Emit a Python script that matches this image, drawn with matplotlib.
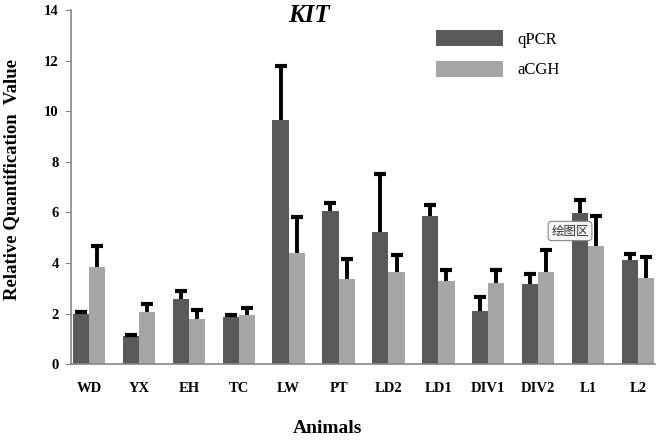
import matplotlib.pyplot as plt
import numpy as np

animals = ['WD', 'YX', 'EH', 'TC', 'LW', 'PT', 'LD2', 'LD1', 'DIV1', 'DIV2', 'L1', 'L2']
qpcr = [2.0, 1.12, 2.57, 1.85, 9.66, 6.05, 5.23, 5.85, 2.11, 3.19, 5.97, 4.14]
qpcr_err = [0.07, 0.04, 0.34, 0.08, 2.14, 0.32, 2.28, 0.44, 0.53, 0.37, 0.51, 0.2]
acgh = [3.85, 2.07, 1.77, 1.95, 4.4, 3.35, 3.65, 3.28, 3.21, 3.65, 4.68, 3.39]
acgh_err = [0.83, 0.33, 0.36, 0.29, 1.41, 0.8, 0.66, 0.46, 0.53, 0.86, 1.17, 0.85]

plt.rcParams['font.family'] = ['Liberation Serif', 'DejaVu Serif']

fig = plt.figure(figsize=(6.71, 4.42), dpi=100)
ax = fig.add_axes([0.106, 0.176, 0.87, 0.801])

x = np.arange(len(animals))
w = 0.325
ax.bar(x - w / 2, qpcr, w, color='#595959', label='qPCR')
ax.bar(x + w / 2, acgh, w, color='#a6a6a6', label='aCGH')

# upper error bars only: a stem and a cap on top
for xs, vals, errs in [(x - w / 2, qpcr, qpcr_err), (x + w / 2, acgh, acgh_err)]:
    vals = np.array(vals)
    tops = vals + np.array(errs)
    ax.vlines(xs, vals, tops, color='black', lw=2.8)
    ax.plot(xs, tops, ls='none', marker='_', ms=9, mew=3, color='black')

ax.set_xlim(-0.36, 11.34)
ax.set_ylim(0, 14)
ax.set_yticks(range(0, 15, 2))
ax.set_xticks(x)
ax.set_xticklabels(animals, fontweight='bold', fontsize=10.5)
ax.tick_params(axis='x', length=0, pad=13)
ax.tick_params(axis='y', length=4, color='#868686', labelsize=10.5, pad=5)
for t in ax.get_yticklabels():
    t.set_fontweight('bold')

for s in ['top', 'right']:
    ax.spines[s].set_visible(False)
for s in ['left', 'bottom']:
    ax.spines[s].set_color('#868686')
    ax.spines[s].set_linewidth(1.2)

ax.set_ylabel('Relative Quantification  Value', fontweight='bold', fontsize=13.5)
ax.yaxis.set_label_coords(-0.088, 0.523)
ax.set_xlabel('Animals', fontweight='bold', fontsize=14)
ax.xaxis.set_label_coords(0.44, -0.158)
ax.text(4.4, 13.8, 'KIT', fontsize=18, fontweight='bold', fontstyle='italic',
        ha='center', va='center')

ax.legend(loc='upper left', bbox_to_anchor=(0.6, 0.985), frameon=False, fontsize=12,
          handlelength=4.0, handleheight=1.1, labelspacing=0.75, handletextpad=0.85)

fig.text(570 / 671, 1 - 231 / 442, '绘图区', fontsize=9, family=['Noto Sans CJK SC', 'DejaVu Sans'],
         ha='center', va='center', color='#333333',
         bbox=dict(boxstyle='round,pad=0.25', fc='#f4f4f4', ec='#8a8a8a', lw=0.8))

fig.savefig('out.png', dpi=100)
